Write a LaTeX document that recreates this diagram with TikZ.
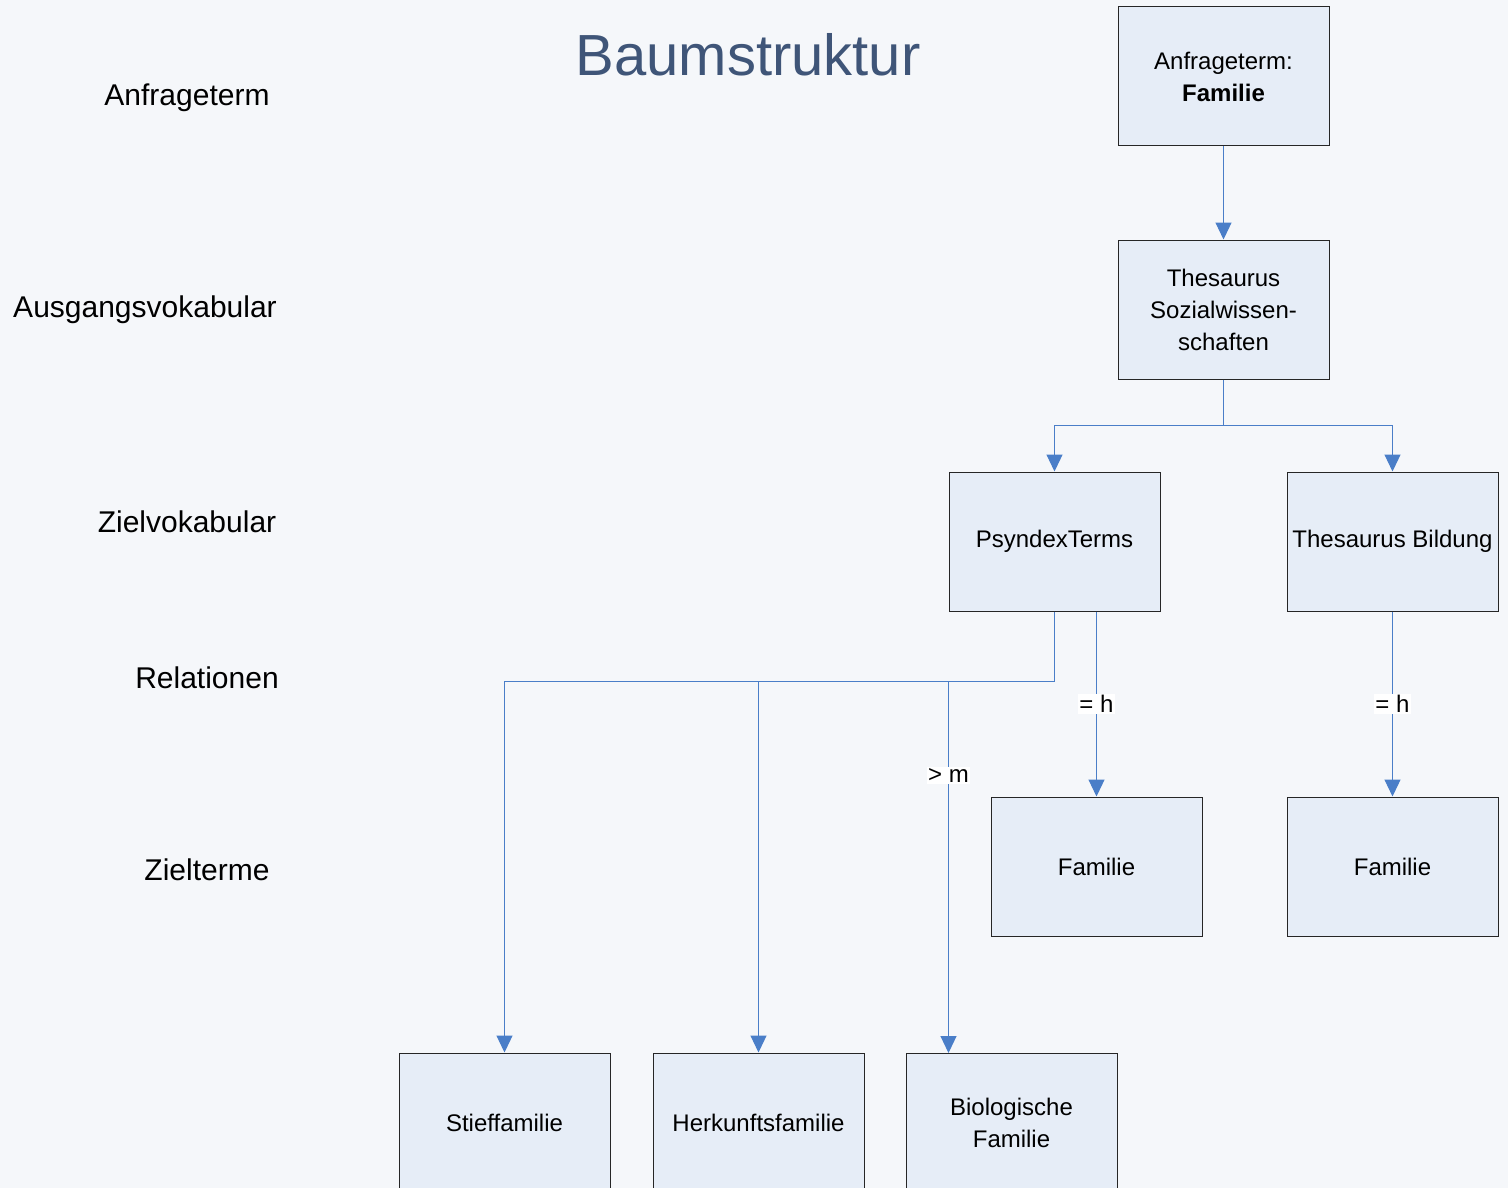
\documentclass[tikz,border=0pt]{standalone}
\usepackage{fontspec}
\setmainfont{Liberation Sans}
\usetikzlibrary{arrows.meta}
\definecolor{bgblue}{HTML}{F5F7FA}
\definecolor{boxblue}{HTML}{E6EDF7}
\definecolor{lineblue}{HTML}{4A7EC8}
\definecolor{titleblue}{HTML}{3F5578}
\tikzset{
	termbox/.style={draw=black!85,fill=boxblue,line width=1pt,minimum width=211pt,minimum height=139pt,inner sep=0pt,align=center,font=\fontsize{24}{32}\selectfont},
	link/.style={draw=lineblue,line width=1.2pt},
	linkarrow/.style={link,-{Triangle[length=17pt,width=16pt]}},
	rel/.style={fill=white,inner sep=1.5pt,font=\fontsize{24}{28}\selectfont},
	side/.style={font=\fontsize{30}{36}\selectfont}
}
\begin{document}
\begin{tikzpicture}[x=1pt,y=-1pt]

			\fill[bgblue] (0, 0) rectangle (1508, 1188);
			\useasboundingbox (0, 0) rectangle (1508, 1188);

			\node[font=\fontsize{58}{64}\selectfont,text=titleblue] (title) at (748, 55) {Baumstruktur};

			\node[side] (lanfrage) at (187, 98) {Anfrageterm};
			\node[side] (lausgang) at (145, 310) {Ausgangsvokabular};
			\node[side] (lziel) at (187, 522) {Zielvokabular};
			\node[side] (lrel) at (207, 678) {Relationen};
			\node[side] (lterme) at (207, 870) {Zielterme};

			\node[termbox] (anfrage) at (1223.5, 76.5) {Anfrageterm:\\\textbf{Familie}};
			\node[termbox] (sowi) at (1223.5, 309.5) {Thesaurus\\Sozialwissen-\\schaften};
			\node[termbox] (psyndex) at (1054.5, 541.5) {PsyndexTerms};
			\node[termbox] (bildung) at (1392.5, 541.5) {Thesaurus Bildung};
			\node[termbox] (famp) at (1096.5, 866.5) {Familie};
			\node[termbox] (famb) at (1392.5, 866.5) {Familie};
			\node[termbox] (stief) at (504.5, 1122.5) {Stieffamilie};
			\node[termbox] (herkunft) at (758.5, 1122.5) {Herkunftsfamilie};
			\node[termbox] (bio) at (1011.5, 1122.5) {Biologische\\Familie};

			\coordinate (sj) at (1223.5, 425.5);
			\coordinate (pj) at (1054.5, 681.5);
			\coordinate (bioin) at (948.5, 1053);

			\draw[linkarrow] (anfrage) -- (sowi);
			\draw[link] (sowi) -- (sj);
			\draw[linkarrow] (sj) -| (psyndex);
			\draw[linkarrow] (sj) -| (bildung);

			\draw[link] (psyndex) -- (pj);
			\draw[linkarrow] (pj) -| (stief);
			\draw[linkarrow] (pj) -| (herkunft);
			\draw[linkarrow] (pj) -| (bioin) node[rel,pos=.626] {> m};

			\draw[linkarrow] (psyndex.south -| famp.north) -- (famp) node[rel,pos=.5] {= h};
			\draw[linkarrow] (bildung) -- (famb) node[rel,pos=.5] {= h};

		\end{tikzpicture}
\end{document}
